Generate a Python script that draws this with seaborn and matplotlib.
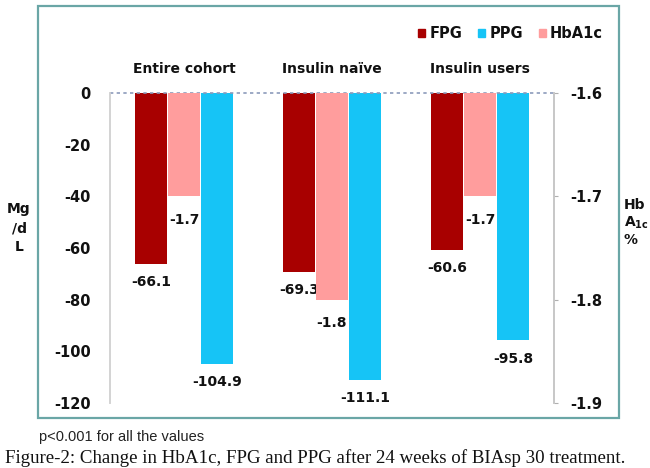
import pandas as pd
import matplotlib
matplotlib.use('Agg')
import matplotlib.pyplot as plt
from matplotlib.patches import Patch, Rectangle
import seaborn as sns

groups = ['Entire cohort', 'Insulin naïve', 'Insulin users']
fpg = [-66.1, -69.3, -60.6]
ppg = [-104.9, -111.1, -95.8]
hba1c = [-1.7, -1.8, -1.7]

measure_order = ['FPG', 'HbA1c', 'PPG']
legend_order = ['FPG', 'PPG', 'HbA1c']
colors = {'FPG': '#a80000', 'PPG': '#16c4f6', 'HbA1c': '#ff9d9d'}

# glucose values on the left axis, HbA1c on the right axis
df_glucose = pd.DataFrame({
    'group': groups * 2,
    'measure': ['FPG'] * 3 + ['PPG'] * 3,
    'value': fpg + ppg,
})
df_hba1c = pd.DataFrame({'group': groups, 'measure': ['HbA1c'] * 3, 'value': hba1c})

sns.set_theme(style='white')
plt.rcParams['font.family'] = ['DejaVu Sans']
plt.rcParams['axes.unicode_minus'] = False

fig = plt.figure(figsize=(6.5, 4.68), dpi=100)
ax = fig.add_axes([110 / 650, 1 - 403 / 468, 444 / 650, 310 / 468])
ax2 = ax.twinx()

sns.barplot(data=df_glucose, x='group', y='value', hue='measure', hue_order=measure_order,
            order=groups, palette=colors, width=0.67, gap=0.04, saturation=1, dodge=True,
            linewidth=0, legend=False, ax=ax)
sns.barplot(data=df_hba1c, x='group', y='value', hue='measure', hue_order=measure_order,
            order=groups, palette=colors, width=0.67, gap=0.04, saturation=1, dodge=True,
            linewidth=0, legend=False, ax=ax2)

ax.set_ylim(-120, 0)
ax.set_yticks(range(0, -121, -20))
ax2.set_ylim(-1.9, -1.6)
ax2.set_yticks([-1.6, -1.7, -1.8, -1.9])
ax2.set_yticklabels(['%.1f' % v for v in [-1.6, -1.7, -1.8, -1.9]])
ax.set_xlim(-0.5, 2.5)

for c in ax.containers:
    ax.bar_label(c, fmt='%.1f', padding=8, fontsize=10, fontweight='bold', color='#111111')
for c in ax2.containers:
    ax2.bar_label(c, fmt='%.1f', padding=12, fontsize=10, fontweight='bold', color='#111111')

# group names on top
ax.xaxis.set_ticks_position('top')
ax.tick_params(axis='x', length=0, pad=12, labelsize=10)
ax.set_xlabel('')
ax.set_ylabel('')
ax2.set_ylabel('')
ax2.set_xlabel('')
ax.tick_params(axis='y', length=0, pad=14, labelsize=10.5)
ax2.tick_params(axis='y', length=3, width=0.8, color='#b0b0b0', pad=9, labelsize=10.5)
for lab in ax.get_xticklabels() + ax.get_yticklabels() + ax2.get_yticklabels():
    lab.set_fontweight('bold')
    lab.set_color('#111111')

for a in (ax, ax2):
    a.spines['bottom'].set_visible(False)
    a.spines['left'].set_color('#d4d4d4')
    a.spines['right'].set_color('#c8c8c8')
    a.spines['top'].set_visible(False)
ax.axhline(0, color='#8c9bbb', linestyle=(0, (2, 2)), linewidth=1.2, zorder=5, clip_on=False)

handles = [Patch(color=colors[m], label=m) for m in legend_order]
leg = fig.legend(handles=handles, loc='center right', bbox_to_anchor=(616 / 650, 1 - 34 / 468),
                 ncol=3, frameon=False, handlelength=0.45, handleheight=0.45,
                 handletextpad=0.3, columnspacing=1.1, fontsize=10.5)
for t in leg.get_texts():
    t.set_fontweight('bold')
    t.set_color('#111111')

fig.text(19 / 650, 1 - 228 / 468, 'Mg\n/d\nL', ha='center', va='center',
         fontsize=10, fontweight='bold', linespacing=1.45, color='#111111')
fig.text(624 / 650, 1 - 205 / 468, 'Hb', ha='left', va='center', fontsize=10,
         fontweight='bold', color='#111111')
fig.text(624 / 650, 1 - 223 / 468, r'$\mathbf{A_{1c}}$', ha='left', va='center',
         fontsize=10, color='#111111')
fig.text(624 / 650, 1 - 240 / 468, '%', ha='left', va='center', fontsize=10,
         fontweight='bold', color='#111111')

fig.patches.append(Rectangle((38 / 650, 1 - 418 / 468), 581 / 650, 412 / 468,
                             transform=fig.transFigure, fill=False,
                             edgecolor='#6aa6a6', linewidth=1.6))

fig.text(39 / 650, 1 - 437 / 468, 'p<0.001 for all the values', ha='left', va='center',
         fontsize=10.5, family='Liberation Sans', color='#222222')
fig.text(5 / 650, 1 - 458 / 468,
         'Figure-2: Change in HbA1c, FPG and PPG after 24 weeks of BIAsp 30 treatment.',
         ha='left', va='center', fontsize=13.6, family='Liberation Serif', color='#111111')

fig.savefig('out.png', dpi=100)
